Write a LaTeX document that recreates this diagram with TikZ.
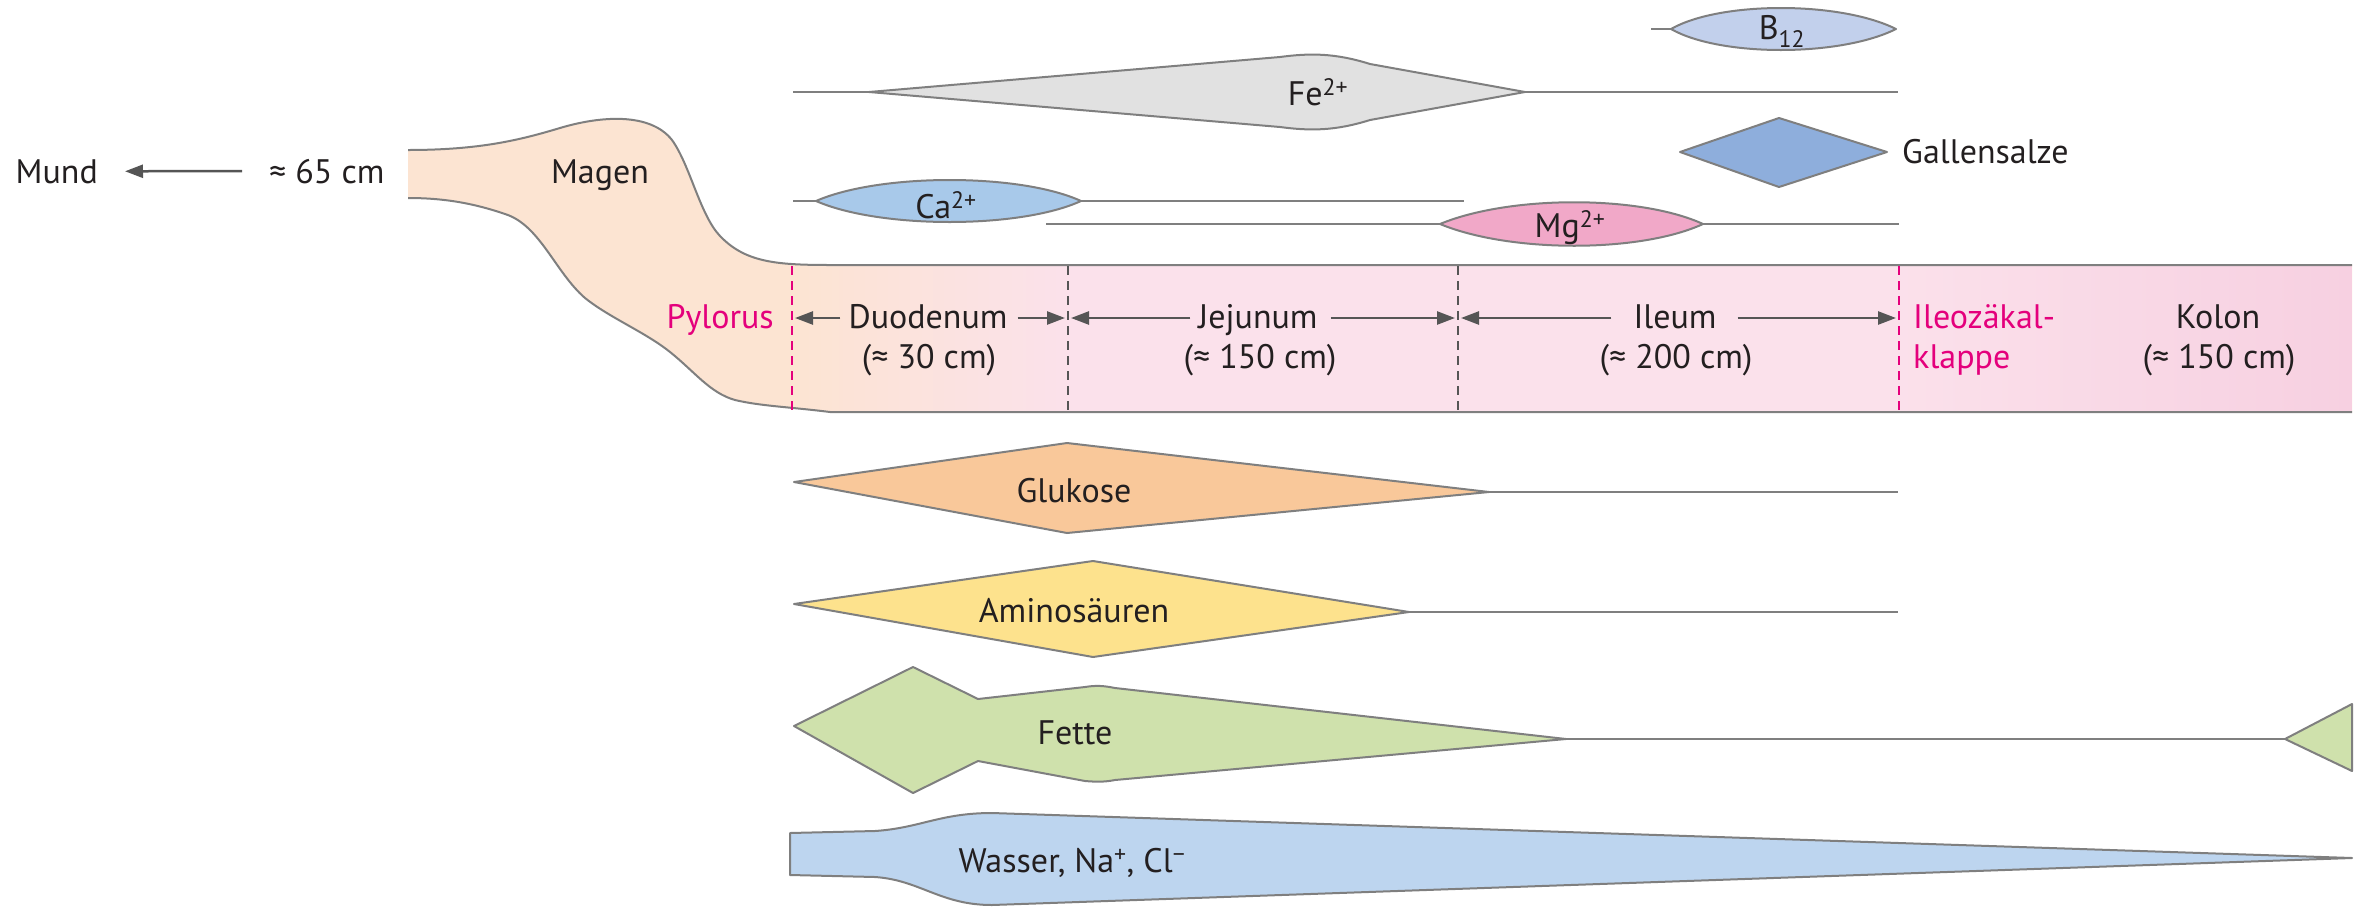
\documentclass[tikz,border=0pt]{standalone}
\usepackage{fontspec}
\setmainfont{PT Sans}
\usetikzlibrary{arrows.meta}
\definecolor{textc}{HTML}{231F20}
\definecolor{outl}{HTML}{7F7F7F}
\definecolor{arrc}{HTML}{555555}
\definecolor{magc}{HTML}{E4007C}
\definecolor{peach}{HTML}{FCE4D2}
\definecolor{pinkA}{HTML}{FBE1EB}
\definecolor{pinkB}{HTML}{F7D0E1}
\definecolor{feC}{HTML}{E1E1E1}
\definecolor{caC}{HTML}{A8C9EA}
\definecolor{mgC}{HTML}{F1A8C8}
\definecolor{bC}{HTML}{C2D0EC}
\definecolor{galC}{HTML}{8EAEDC}
\definecolor{gluC}{HTML}{F9C89A}
\definecolor{amiC}{HTML}{FDE28D}
\definecolor{fetC}{HTML}{CFE1AC}
\definecolor{wasC}{HTML}{BDD5EF}
\pgfdeclarehorizontalshading{tubeshade}{100bp}{color(0bp)=(peach); color(25bp)=(peach); color(34bp)=(pinkA); color(60bp)=(pinkA); color(75bp)=(pinkB); color(100bp)=(pinkB)}
\begin{document}
\begin{tikzpicture}[x=1pt,y=-1pt,
  txt/.style={inner sep=0pt, text=textc, font=\fontsize{34}{40}\selectfont, anchor=base},
  mtxt/.style={txt, text=magc},
  band/.style={draw=outl, line width=2pt, line join=round},
  rail/.style={draw=outl, line width=2pt},
  arr/.style={draw=arrc, line width=2.5pt, -{Triangle[length=18pt,width=13pt]}},
  gdash/.style={draw=arrc, line width=2pt, dash pattern=on 9pt off 6pt},
  mdash/.style={draw=magc, line width=2pt, dash pattern=on 9pt off 6pt}]
\useasboundingbox (0,0) rectangle (2366,919);

% ---------- stomach + gut tube ----------
\fill[peach] (408,150) .. controls (480,150) and (520,140) .. (560,128)
  .. controls (600,116) and (650,112) .. (672,140)
  .. controls (690,165) and (700,215) .. (720,236)
  .. controls (745,262) and (775,265) .. (830,265)
  -- (2352,265) -- (2352,412) -- (830,412)
  .. controls (790,407) and (760,406) .. (735,400)
  .. controls (710,393) and (695,372) .. (670,352)
  .. controls (645,332) and (610,318) .. (585,298)
  .. controls (555,272) and (540,225) .. (505,214)
  .. controls (470,202) and (440,198) .. (408,198) -- cycle;
\begin{scope}
\clip (408,150) .. controls (480,150) and (520,140) .. (560,128)
  .. controls (600,116) and (650,112) .. (672,140)
  .. controls (690,165) and (700,215) .. (720,236)
  .. controls (745,262) and (775,265) .. (830,265)
  -- (2352,265) -- (2352,412) -- (830,412)
  .. controls (790,407) and (760,406) .. (735,400)
  .. controls (710,393) and (695,372) .. (670,352)
  .. controls (645,332) and (610,318) .. (585,298)
  .. controls (555,272) and (540,225) .. (505,214)
  .. controls (470,202) and (440,198) .. (408,198) -- cycle;
\shade[shading=tubeshade] (792,250) rectangle (2352,425);
\end{scope}
\draw[rail] (408,150) .. controls (480,150) and (520,140) .. (560,128)
  .. controls (600,116) and (650,112) .. (672,140)
  .. controls (690,165) and (700,215) .. (720,236)
  .. controls (745,262) and (775,265) .. (830,265) -- (2352,265);
\draw[rail] (408,198) .. controls (440,198) and (470,202) .. (505,214)
  .. controls (540,225) and (555,272) .. (585,298)
  .. controls (610,318) and (645,332) .. (670,352)
  .. controls (695,372) and (710,393) .. (735,400)
  .. controls (760,406) and (790,407) .. (830,412) -- (2352,412);

% section boundaries
\coordinate (pylT) at (792,266); \coordinate (pylB) at (792,411);
\coordinate (djT) at (1068,266); \coordinate (djB) at (1068,411);
\coordinate (jiT) at (1458,266); \coordinate (jiB) at (1458,411);
\coordinate (icT) at (1899,266); \coordinate (icB) at (1899,411);
\draw[mdash] (pylT) -- (pylB);
\draw[gdash] (djT) -- (djB);
\draw[gdash] (jiT) -- (jiB);
\draw[mdash] (icT) -- (icB);

% ---------- left labels ----------
\node[txt, anchor=base east] (mund) at (98,183) {Mund};
\node[txt, anchor=base west] (len65) at (269,183) {≈ 65 cm};
\draw[arr, shorten <=27pt, shorten >=27pt] (len65.west) -- (mund.east);
\node[txt] (magen) at (600,183) {Magen};
\node[mtxt, anchor=base east] (pylorus) at (774,328) {Pylorus};

% ---------- segment labels ----------
\coordinate (pylA) at (792,318);
\coordinate (djA) at (1068,318);
\coordinate (jiA) at (1458,318);
\coordinate (icA) at (1899,318);
\node[txt] (duo) at (928,328) {Duodenum};
\node[txt] (duoL) at (929,368) {(≈ 30 cm)};
\node[txt] (jej) at (1258,328) {Jejunum};
\node[txt] (jejL) at (1260,368) {(≈ 150 cm)};
\node[txt] (ile) at (1675,328) {Ileum};
\node[txt] (ileL) at (1676,368) {(≈ 200 cm)};
\node[mtxt, anchor=base west] (ic1) at (1913,328) {Ileozäkal-};
\node[mtxt, anchor=base west] (ic2) at (1913,368) {klappe};
\node[txt] (kolon) at (2218,328) {Kolon};
\node[txt] (kolonL) at (2219,368) {(≈ 150 cm)};

\draw[arr, shorten <=8pt, shorten >=3pt] (duo.west |- pylA) -- (pylA);
\draw[arr, shorten <=10pt, shorten >=3pt] (duo.east |- djA) -- (djA);
\draw[arr, shorten <=8pt, shorten >=3pt] (jej.west |- djA) -- (djA);
\draw[arr, shorten <=13pt, shorten >=3pt] (jej.east |- jiA) -- (jiA);
\draw[arr, shorten <=22pt, shorten >=3pt] (ile.west |- jiA) -- (jiA);
\draw[arr, shorten <=21pt, shorten >=3pt] (ile.east |- icA) -- (icA);

% ---------- upper absorption bands ----------
% B12
\draw[rail] (1651,29) -- (1671,29);
\filldraw[band, fill=bC] (1671,29) .. controls (1720,1) and (1840,1) .. (1896,29)
  .. controls (1840,57) and (1720,57) .. (1671,29) -- cycle;
\node[txt] (b12) at (1782,39) {B\textsubscript{12}};
% Fe
\draw[rail] (793,92) -- (869,92);
\draw[rail] (1525,92) -- (1898,92);
\filldraw[band, fill=feC] (869,92) -- (1280,57) .. controls (1310,53) and (1335,53) .. (1370,64)
  -- (1525,92) -- (1370,120) .. controls (1335,131) and (1310,131) .. (1280,127) -- cycle;
\node[txt] (fe) at (1318,105) {Fe\textsuperscript{2+}};
% Gallensalze
\filldraw[band, fill=galC] (1680,152) -- (1779,118) -- (1887,152) -- (1779,187) -- cycle;
\node[txt, anchor=base west] (gal) at (1902,163) {Gallensalze};
% Ca
\draw[rail] (793,201) -- (816,201);
\draw[rail] (1081,201) -- (1464,201);
\filldraw[band, fill=caC] (816,201) .. controls (880,173) and (1020,173) .. (1081,201)
  .. controls (1020,229) and (880,229) .. (816,201) -- cycle;
\node[txt] (ca) at (946,218) {Ca\textsuperscript{2+}};
% Mg
\draw[rail] (1046,224) -- (1440,224);
\draw[rail] (1703,224) -- (1899,224);
\filldraw[band, fill=mgC] (1440,224) .. controls (1510,195) and (1640,195) .. (1703,224)
  .. controls (1640,253) and (1510,253) .. (1440,224) -- cycle;
\node[txt] (mg) at (1570,237) {Mg\textsuperscript{2+}};

% ---------- lower absorption bands ----------
% Glukose
\draw[rail] (1489,492) -- (1898,492);
\filldraw[band, fill=gluC] (794,482) -- (1067,443) -- (1489,492) -- (1067,533) -- cycle;
\node[txt] (glu) at (1074,502) {Glukose};
% Aminosaeuren
\draw[rail] (1409,612) -- (1898,612);
\filldraw[band, fill=amiC] (794,604) -- (1093,561) -- (1409,612) -- (1093,657) -- cycle;
\node[txt] (ami) at (1074,622) {Aminosäuren};
% Fette
\draw[rail] (1566,739) -- (2285,739);
\filldraw[band, fill=fetC] (794,726) -- (913,667) -- (978,699) -- (1085,687)
  .. controls (1097,685) and (1105,686) .. (1115,688) -- (1566,739)
  -- (1115,780) .. controls (1105,782) and (1097,782) .. (1085,781)
  -- (978,761) -- (913,793) -- cycle;
\filldraw[band, fill=fetC] (2285,739) -- (2352,704) -- (2352,771) -- cycle;
\node[txt] (fet) at (1075,744) {Fette};
% Wasser
\filldraw[band, fill=wasC] (790,833) -- (875,831) .. controls (920,828) and (940,813) .. (992,813)
  -- (2352,858) -- (992,905) .. controls (940,905) and (920,880) .. (875,877)
  -- (790,875) -- cycle;
\node[txt] (was) at (1072,872) {Wasser, Na\textsuperscript{+}, Cl\textsuperscript{−}};
\end{tikzpicture}
\end{document}
